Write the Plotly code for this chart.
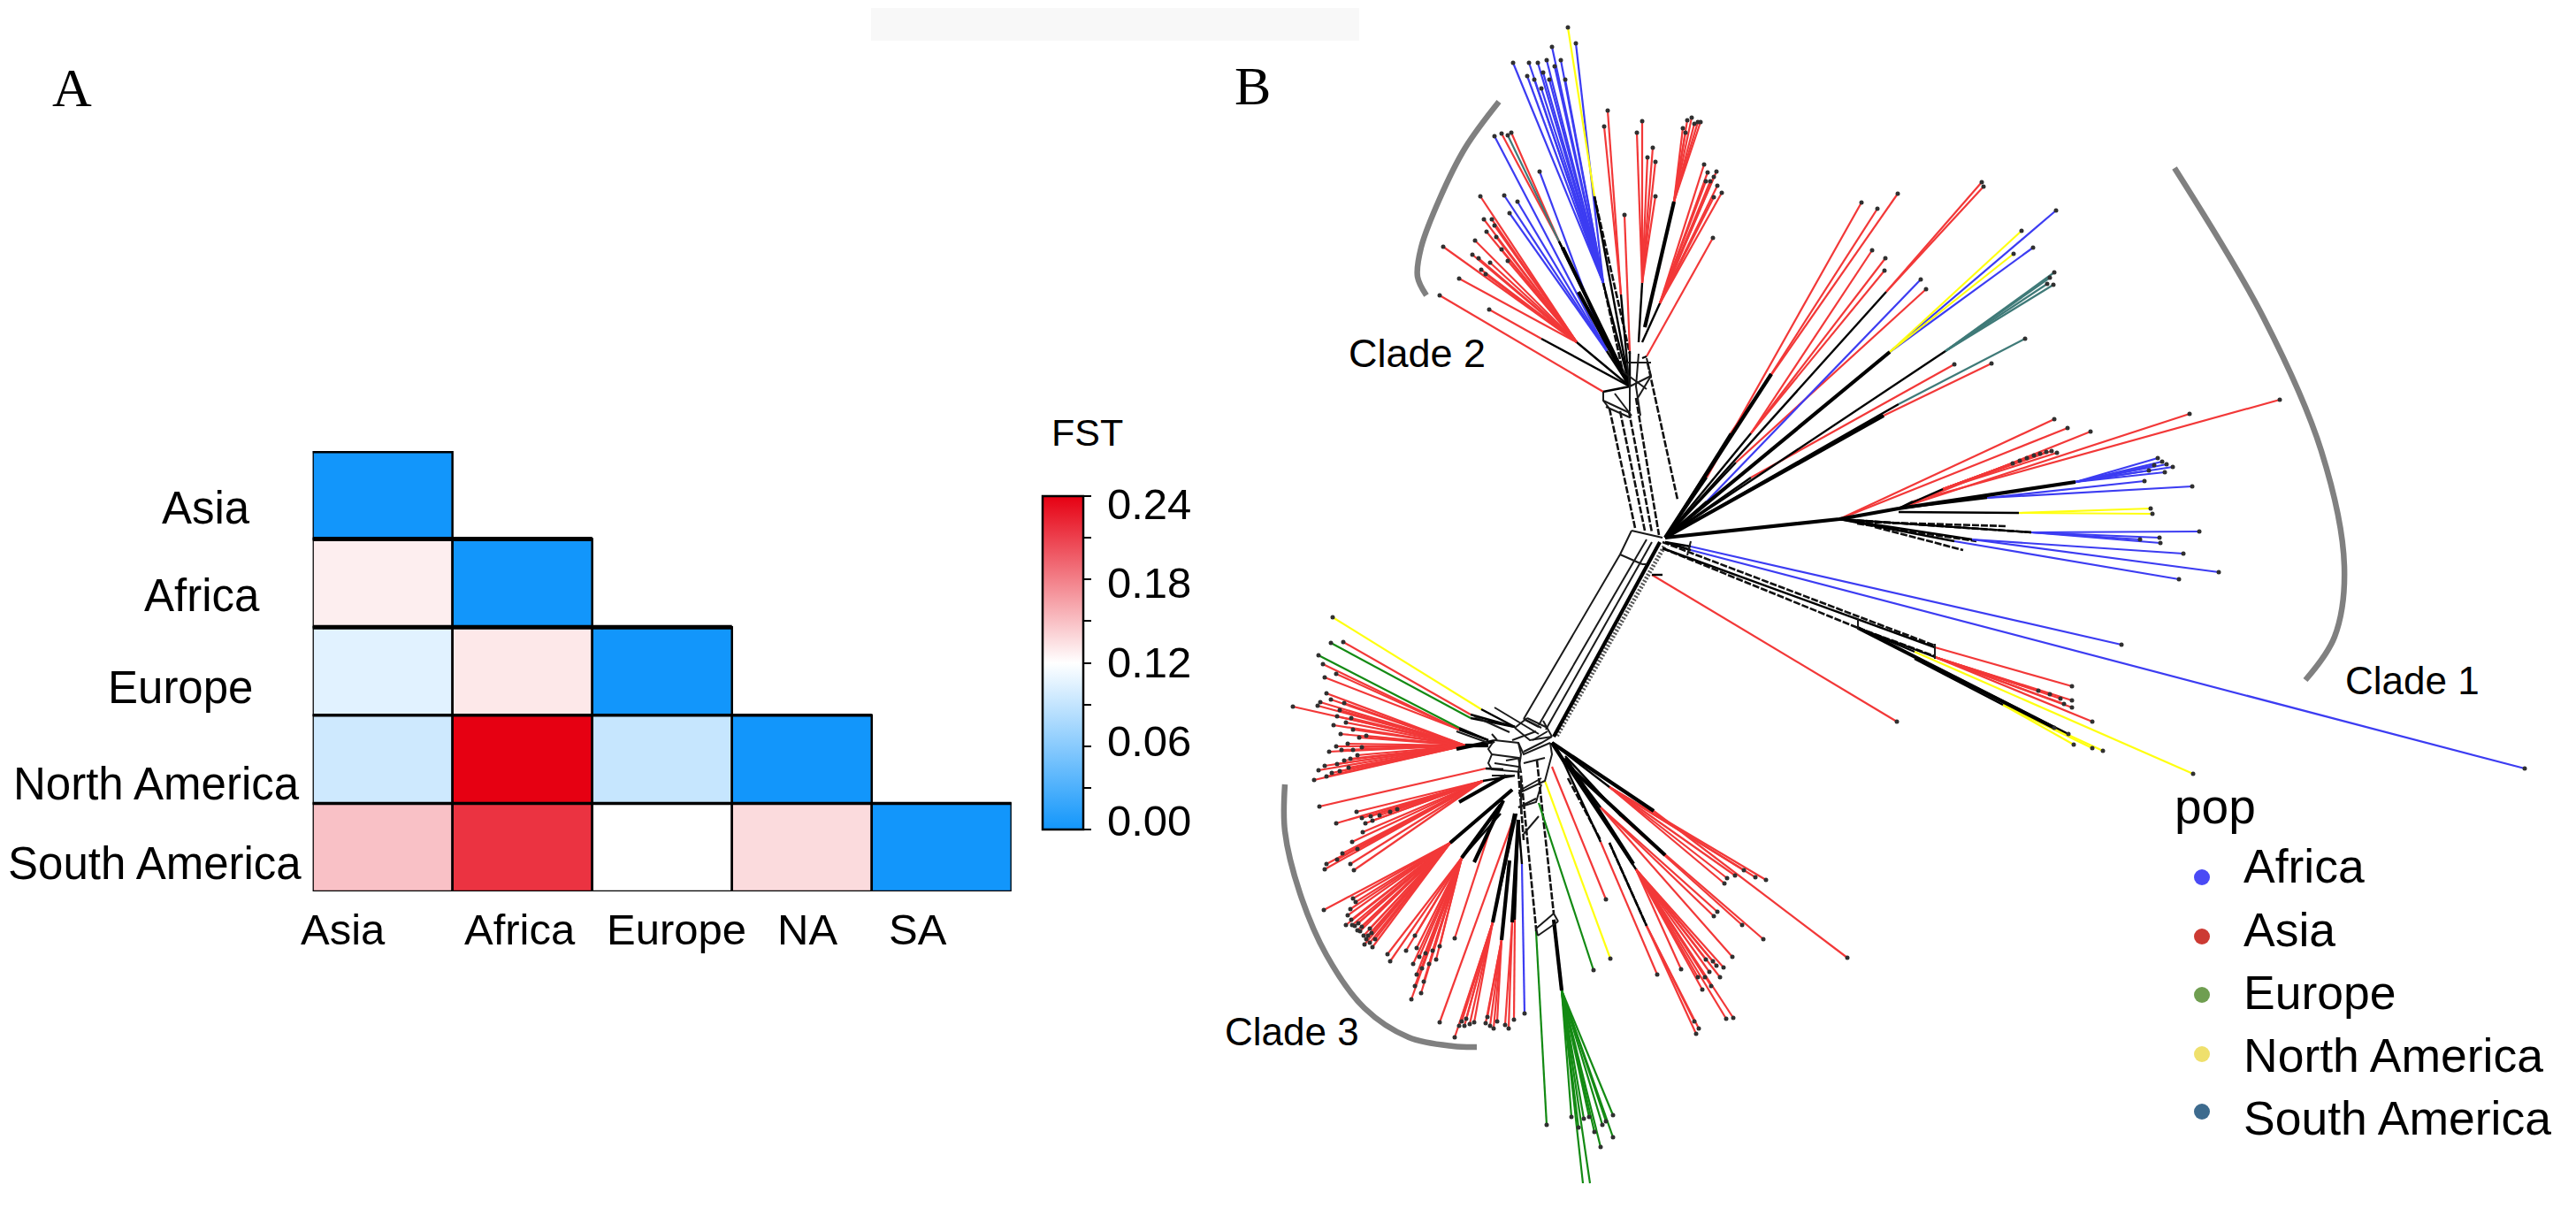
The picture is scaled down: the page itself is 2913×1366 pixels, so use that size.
import plotly.graph_objects as go

W, H = 2913, 1366

# ---------- panel A data ----------
row_labels = ["Asia", "Africa", "Europe", "North America", "South America"]
col_labels = ["Asia", "Africa", "Europe", "NA", "SA"]
fst_asia = [0.0, 0.128, 0.105, 0.095, 0.149]
fst_africa = [None, 0.0, 0.131, 0.24, 0.216]
fst_europe = [None, None, 0.0, 0.091, 0.12]
fst_na = [None, None, None, 0.0, 0.137]
fst_sa = [None, None, None, None, 0.0]
cbar_major = [0.0, 0.06, 0.12, 0.18, 0.24]
cbar_minor = [0.03, 0.09, 0.15, 0.21]

# ---------- panel B data: (node the black stem leaves, node where the colour starts, tips) ----------
asia_branches = [
    ((1843, 437), (1783, 387), [(1674, 222), (1678, 248), (1687, 248), (1668, 272), (1665, 288), (1685, 297),
                                (1705, 295), (1675, 305), (1632, 279), (1650, 315), (1681, 262), (1672, 292),
                                (1692, 268), (1698, 282), (1680, 310), (1690, 255)]),
    ((1843, 437), (1813, 443), [(1628, 334)]),
    ((1843, 437), (1743, 383), [(1684, 350)]),
    ((1843, 437), (1763, 273), [(1698, 151), (1709, 150)]),
    ((1840, 410), (1833, 333), [(1818, 125), (1814, 143)]),
    ((1843, 437), (1843, 397), [(1837, 243)]),
    ((1853, 387), (1857, 320), [(1857, 137), (1851, 150), (1869, 167), (1863, 178), (1872, 183), (1872, 222)]),
    ((1860, 370), (1893, 228), [(1908, 136), (1913, 133), (1923, 138), (1903, 145), (1920, 138), (1916, 140), (1906, 150)]),
    ((1857, 387), (1877, 343), [(1927, 186), (1931, 195), (1941, 194), (1938, 223), (1947, 218), (1938, 200), (1934, 205),
                                (1929, 205), (1942, 210)]),
    ((1857, 405), (1862, 403), [(1937, 269)]),
    # first upper fan
    ((1883, 608), (1930, 540), [(2105, 229)]),
    ((1883, 608), (2003, 423), [(2123, 236)]),
    ((1883, 608), (1957, 490), [(2146, 219)]),
    ((1883, 608), (1980, 490), [(2117, 283), (2132, 292), (2131, 306)]),
    ((1883, 608), (2133, 330), [(2241, 206), (2243, 211)]),
    ((1883, 608), (1963, 523), [(2178, 327)]),
    ((1883, 608), (1980, 540), [(2210, 412)]),
    ((1883, 608), (2130, 470), [(2252, 411)]),
    # right fan
    ((2080, 587), (2080, 587), [(2323, 474), (2338, 484)]),
    ((2147, 575), (2147, 575), [(2364, 488), (2476, 468)]),
    ((2147, 575), (2163, 567), [(2578, 452)]),
    ((2147, 575), (2197, 553), [(2320, 510), (2314, 511), (2307, 513), (2300, 515), (2292, 518), (2284, 521),
                                (2276, 524), (2326, 512)]),
    # lower right
    ((1880, 620), (2188, 732), [(2343, 776)]),
    ((2101, 710), (2188, 743), [(2343, 792), (2343, 800), (2366, 816), (2330, 790), (2318, 785), (2305, 781), (2334, 796)]),
    ((1880, 650), (1868, 650), [(2145, 816)]),
    # clade 3, upper-left wedge
    ((1713, 822), (1663, 808), [(1519, 726)]),
    ((1683, 837), (1650, 825), [(1496, 751), (1511, 762), (1498, 766)]),
    ((1683, 843), (1657, 843), [(1500, 784), (1505, 791), (1493, 794), (1490, 798), (1462, 799), (1508, 820), (1522, 817),
                                (1537, 834), (1545, 832), (1524, 841), (1511, 844), (1503, 850), (1535, 854), (1527, 858),
                                (1498, 866), (1491, 871), (1506, 874), (1486, 882), (1515, 803), (1528, 812), (1517, 848),
                                (1512, 864), (1520, 860), (1500, 878), (1520, 795), (1512, 810), (1530, 825), (1516, 830),
                                (1540, 845), (1525, 868), (1515, 872), (1530, 848)]),
    ((1700, 870), (1680, 869), [(1492, 912)]),
    ((1713, 877), (1677, 883), [(1534, 918), (1550, 923), (1511, 931), (1544, 931), (1541, 941), (1529, 952), (1500, 977),
                                (1527, 977), (1498, 983), (1531, 984), (1560, 922), (1572, 918), (1552, 928), (1540, 925),
                                (1518, 965), (1512, 972), (1535, 960), (1580, 915)]),
    # clade 3, lower wedges
    ((1710, 893), (1640, 953), [(1497, 1029), (1530, 1016), (1533, 1020), (1524, 1035), (1522, 1046), (1532, 1047),
                                (1538, 1053), (1549, 1050), (1551, 1055), (1549, 1066), (1552, 1071), (1528, 1040),
                                (1542, 1058), (1536, 1044), (1545, 1062), (1527, 1028), (1540, 1048), (1535, 1052),
                                (1547, 1058), (1529, 1046), (1555, 1062), (1543, 1068)]),
    ((1697, 920), (1653, 970), [(1569, 1079), (1572, 1087), (1600, 1058), (1602, 1072), (1605, 1082), (1602, 1102),
                                (1596, 1130), (1607, 1123), (1590, 1075), (1612, 1078), (1620, 1075), (1628, 1070),
                                (1598, 1090), (1608, 1095), (1610, 1110), (1616, 1090), (1624, 1085), (1600, 1115)]),
    ((1695, 915), (1690, 923), [(1645, 1061)]),
    ((1712, 925), (1710, 930), [(1628, 1156)]),
    ((1715, 920), (1688, 1043), [(1645, 1173), (1653, 1155), (1658, 1152), (1662, 1158), (1667, 1156), (1650, 1160), (1656, 1160)]),
    ((1707, 973), (1698, 1063), [(1680, 1157), (1685, 1160), (1689, 1163), (1682, 1150), (1693, 1155)]),
    ((1717, 927), (1710, 1043), [(1702, 1159), (1706, 1163)]),
    ((1717, 927), (1713, 1040), [(1712, 1153)]),
    # clade 3, right fan
    ((1755, 867), (1755, 867), [(1816, 1017)]),
    ((1755, 840), (1870, 917), [(2089, 1083)]),
    ((1755, 840), (1820, 890), [(1997, 995), (1972, 984), (1953, 993), (1950, 999), (1985, 992), (1962, 990)]),
    ((1770, 855), (1833, 923), [(1994, 1062), (1970, 1046)]),
    ((1770, 860), (1810, 913), [(1942, 1031), (1938, 1036), (1959, 1082)]),
    ((1770, 863), (1850, 983), [(1949, 1094), (1937, 1087), (1929, 1085), (1933, 1099), (1925, 1119), (1960, 1151),
                                (1952, 1152), (1901, 1096), (1941, 1092), (1920, 1105), (1945, 1105), (1935, 1115),
                                (1928, 1105)]),
    ((1765, 855), (1810, 952), [(1874, 1102)]),
    ((1820, 953), (1862, 1047), [(1921, 1163), (1918, 1169), (1916, 1155)]),
]
africa_branches = [
    ((1843, 437), (1813, 320), [(1782, 49), (1755, 53), (1711, 71), (1729, 71), (1739, 71), (1749, 68), (1765, 68),
                                (1727, 86), (1758, 75), (1745, 82), (1770, 90), (1735, 90), (1752, 90), (1743, 100)]),
    ((1843, 437), (1817, 397), [(1690, 154), (1741, 194), (1701, 221), (1716, 228), (1707, 241)]),
    ((1883, 608), (1930, 567), [(2172, 316)]),
    ((2137, 398), (2137, 398), [(2325, 238), (2299, 280)]),
    ((2147, 575), (2347, 545), [(2440, 518), (2445, 522), (2450, 525), (2457, 528), (2448, 534), (2436, 526), (2430, 532)]),
    ((2147, 575), (2247, 563), [(2425, 544), (2479, 550)]),
    ((2080, 587), (2297, 602), [(2487, 601), (2442, 608), (2443, 614), (2420, 610)]),
    ((2080, 587), (2230, 610), [(2469, 626), (2509, 647)]),
    ((2080, 587), (2210, 612), [(2464, 655)]),
    ((1883, 613), (1912, 618), [(2399, 729)]),
    ((1883, 613), (1912, 622), [(2855, 869)]),
    ((1717, 927), (1721, 977), [(1724, 1146)]),
]
europe_branches = [
    ((1713, 822), (1663, 812), [(1505, 727)]),
    ((1683, 837), (1650, 823), [(1491, 741)]),
    ((1740, 908), (1740, 908), [(1802, 1097)]),
    ((1737, 1050), (1737, 1053), [(1749, 1272)]),
    ((1757, 1040), (1766, 1120), [(1777, 1263), (1797, 1263), (1812, 1272), (1824, 1261), (1824, 1286), (1810, 1297),
                                  (1785, 1275), (1803, 1280), (1816, 1268), (1791, 1265)]),
]
europe_cut_branches = [
    ((1757, 1040), (1766, 1120), [(1790, 1338), (1798, 1338)]),
]
north_america_branches = [
    ((1843, 437), (1803, 222), [(1773, 31)]),
    ((2137, 398), (2137, 398), [(2286, 261), (2277, 287)]),
    ((2147, 579), (2283, 580), [(2432, 575), (2434, 581)]),
    ((2101, 710), (2165, 737), [(2480, 875)]),
    ((2165, 745), (2265, 797), [(2345, 842), (2366, 846), (2378, 849)]),
    ((1713, 822), (1675, 802), [(1507, 698)]),
    ((1747, 883), (1747, 883), [(1821, 1084)]),
]
south_america_branches = [
    ((1843, 437), (1763, 273), [(1705, 153)]),
    ((1883, 608), (2200, 397), [(2323, 308), (2322, 322), (2315, 321), (2318, 314)]),
    ((1883, 608), (2147, 457), [(2290, 383)]),
]
black_tips = [(2323, 823), (2339, 830)]
black_tip_stem = (2101, 710)

network_paths = [
    # clade 2 junction
    [(1840, 410), (1843, 437), (1843, 465)], [(1853, 400), (1850, 437), (1855, 470)], [(1862, 405), (1867, 425), (1852, 450)],
    [(1813, 453), (1843, 467)], [(1816, 460), (1843, 472)], [(1840, 410), (1867, 410)], [(1843, 437), (1867, 425)],
    [(1813, 443), (1813, 453), (1820, 462)], [(1826, 445), (1845, 470)], [(1835, 420), (1862, 440)],
    # central long bundle
    [(1845, 600), (1832, 627), (1723, 813)], [(1862, 610), (1740, 820)], [(1868, 613), (1748, 825)],
    [(1845, 600), (1880, 608)], [(1832, 627), (1857, 638)], [(1723, 813), (1740, 822)], [(1857, 638), (1862, 638)],
    # clade 3 junction
    [(1727, 812), (1713, 823)], [(1713, 823), (1730, 837), (1755, 833)], [(1690, 837), (1717, 840), (1723, 853), (1753, 840)],
    [(1687, 853), (1717, 857), (1720, 873), (1687, 870), (1683, 863), (1687, 853)], [(1690, 837), (1683, 847), (1687, 853)],
    [(1717, 840), (1720, 853), (1717, 873)], [(1717, 897), (1747, 883), (1755, 853), (1753, 840)],
    [(1717, 913), (1737, 907), (1743, 887)], [(1720, 877), (1720, 920)],
    [(1740, 830), (1690, 800)], [(1750, 823), (1727, 812)], [(1755, 833), (1745, 815)],
    [(1667, 810), (1707, 828)], [(1647, 827), (1683, 840)], [(1687, 830), (1693, 837)], [(1723, 813), (1743, 823)],
    [(1733, 837), (1750, 827)], [(1710, 837), (1737, 827)], [(1723, 850), (1743, 840), (1755, 833)],
    [(1723, 863), (1747, 857)], [(1720, 893), (1743, 880)], [(1717, 913), (1737, 903)], [(1703, 860), (1720, 857)],
    [(1690, 863), (1717, 867)], [(1687, 877), (1713, 877)],
    # bottom boxes
    [(1737, 1050), (1757, 1033)], [(1739, 1058), (1762, 1042)], [(1723, 943), (1740, 923)],
    [(1737, 1050), (1739, 1058)], [(1757, 1033), (1762, 1042)],
    # ladders
    [(2101, 700), (2101, 712)], [(2188, 728), (2188, 745)], [(1912, 612), (1908, 628)],
]
thick_paths = [
    [(1843, 437), (1767, 280)], [(1843, 437), (1785, 330)], [(1860, 370), (1893, 228)],
    [(1883, 608), (2003, 423)], [(1883, 608), (2137, 398)], [(1883, 608), (2130, 470)],
    [(1883, 608), (2080, 587), (2147, 575)], [(2147, 575), (2347, 545)],
    [(1657, 843), (1683, 843)], [(1647, 847), (1690, 838)], [(1650, 907), (1703, 877)],
    [(1640, 953), (1710, 893)], [(1653, 970), (1697, 910)], [(1667, 975), (1700, 905)],
    [(1688, 1043), (1713, 920)], [(1698, 1063), (1707, 973)], [(1710, 1043), (1717, 927)],
    [(1757, 1040), (1766, 1120)], [(1757, 833), (1877, 613)],
    [(1755, 840), (1870, 917)], [(1770, 863), (1883, 967)], [(1770, 857), (1847, 977)], [(1755, 840), (1770, 863)],
    [(2101, 710), (2323, 823)],
]
hatch_paths = [[(1882, 618), (1760, 833)]]
dashed_paths = [
    [(1820, 462), (1849, 597)], [(1832, 465), (1860, 600)], [(1842, 465), (1868, 602)], [(1850, 450), (1876, 605)],
    [(1863, 410), (1897, 565)],
    [(1720, 877), (1737, 1050)], [(1738, 860), (1757, 1033)], [(1717, 873), (1723, 950)],
    [(1880, 613), (2188, 730)], [(1880, 620), (2101, 710)], [(2101, 710), (2188, 742)],
    [(2080, 587), (2297, 602)], [(2100, 592), (2235, 612)], [(2120, 596), (2220, 622)], [(2100, 590), (2270, 595)],
    [(1773, 880), (1810, 950)], [(1820, 953), (1862, 1047)], [(1803, 222), (1843, 400)], [(1813, 320), (1835, 420)],
]

clade1_arc_x = [2459, 2560, 2625, 2651, 2640, 2607]
clade1_arc_y = [190, 360, 510, 640, 720, 769]
clade2_arc_x = [1695, 1657, 1627, 1607, 1603, 1613]
clade2_arc_y = [115, 167, 227, 280, 313, 334]
clade3_arc_x = [1453, 1453, 1470, 1500, 1543, 1593, 1643, 1670]
clade3_arc_y = [887, 940, 1010, 1080, 1140, 1173, 1183, 1184]

legend_pops = ["Africa", "Asia", "Europe", "North America", "South America"]
legend_colors = ["#4a4af5", "#cc3a33", "#6f9e50", "#efe06c", "#3d6b8e"]

# ---------- style ----------
FONT = "Liberation Sans"
branch_colors = {"asia": "#f23838", "africa": "#3c3cf2", "europe": "#138a13", "na": "#ffff10", "sa": "#3f7a78"}

# ---------- figure ----------
fig = go.Figure()

z = [[fst_asia[r], fst_africa[r], fst_europe[r], fst_na[r], fst_sa[r]] for r in range(5)]
fig.add_trace(go.Heatmap(
    z=z, x=list(range(5)), y=list(range(5)), xaxis="x", yaxis="y",
    zmin=0, zmax=0.24, hoverongaps=False,
    colorscale=[[0, "#1296fb"], [0.5, "#ffffff"], [1, "#e60012"]],
    colorbar=dict(
        x=1179 / W, xanchor="left", y=1 - 938 / H, yanchor="bottom",
        lenmode="pixels", len=377, thicknessmode="pixels", thickness=46, xpad=0, ypad=0,
        outlinecolor="black", outlinewidth=2.5, ticks="outside", ticklen=8, tickwidth=2, tickcolor="black",
        tickvals=cbar_major + cbar_minor, showticklabels=False,
    ),
))

shapes = [dict(type="rect", xref="paper", yref="paper", x0=985 / W, x1=1537 / W, y0=1 - 46 / H, y1=1 - 9 / H,
               fillcolor="#f8f8f8", line_width=0, layer="below")]
for r in range(5):
    for c in range(r + 1):
        shapes.append(dict(type="rect", xref="x", yref="y", x0=c - 0.5, x1=c + 0.5, y0=r - 0.5, y1=r + 0.5,
                           line=dict(color="black", width=2.5), fillcolor="rgba(0,0,0,0)"))
    shapes.append(dict(type="line", xref="x", yref="y", x0=-0.5, x1=r + 0.5, y0=r - 0.5, y1=r - 0.5,
                       line=dict(color="black", width=5 if r < 3 else 3.5)))
fig.update_layout(shapes=shapes)


def polyline_xy(paths):
    xs, ys = [], []
    for path in paths:
        for px, py in path:
            xs.append(px)
            ys.append(py)
        xs.append(None)
        ys.append(None)
    return xs, ys


def add_tree_line(xs, ys, color, width, dash=None):
    fig.add_trace(go.Scatter(x=xs, y=ys, mode="lines", xaxis="x2", yaxis="y2", hoverinfo="skip",
                             line=dict(color=color, width=width, dash=dash)))


groups = [("asia", asia_branches), ("africa", africa_branches), ("europe", europe_branches + europe_cut_branches),
          ("na", north_america_branches), ("sa", south_america_branches)]

black_paths = [[black_tip_stem, t] for t in black_tips]
for _, branches in groups:
    for start, stem, tips in branches:
        black_paths.append([start, stem])

add_tree_line(*polyline_xy(hatch_paths), "#555555", 5, "2px,2px")
add_tree_line(*polyline_xy(dashed_paths), "#111111", 2.6, "8px,2px")
for name, branches in groups:
    paths = [[stem, t] for _, stem, tips in branches for t in tips]
    add_tree_line(*polyline_xy(paths), branch_colors[name], 2.2)
add_tree_line(*polyline_xy(black_paths), "#000000", 2.4)
add_tree_line(*polyline_xy(thick_paths), "#000000", 4.2)
add_tree_line(*polyline_xy(network_paths), "#1a1a1a", 2)

tip_x, tip_y = [], []
for branches in (asia_branches, africa_branches, europe_branches, north_america_branches, south_america_branches):
    for _, _, tips in branches:
        for t in tips:
            tip_x.append(t[0])
            tip_y.append(t[1])
for t in black_tips:
    tip_x.append(t[0])
    tip_y.append(t[1])
fig.add_trace(go.Scatter(x=tip_x, y=tip_y, mode="markers", xaxis="x2", yaxis="y2", hoverinfo="skip",
                         marker=dict(color="#303030", size=5)))

for ax, ay in ((clade1_arc_x, clade1_arc_y), (clade2_arc_x, clade2_arc_y), (clade3_arc_x, clade3_arc_y)):
    fig.add_trace(go.Scatter(x=ax, y=ay, mode="lines", xaxis="x2", yaxis="y2", hoverinfo="skip",
                             line=dict(color="#808080", width=6.5, shape="spline", smoothing=1.0)))

legend_x = [2490] * 5
legend_y = [992, 1059, 1125, 1192, 1257]
legend_text_y = [979, 1051, 1122, 1193, 1264]
fig.add_trace(go.Scatter(x=legend_x, y=legend_y, mode="markers", xaxis="x2", yaxis="y2", hoverinfo="skip",
                         marker=dict(color=legend_colors, size=18)))

annotations = []


def label(text, x, y, size, family=FONT, xanchor="center"):
    annotations.append(dict(text=text, x=x / W, y=1 - y / H, xref="paper", yref="paper", showarrow=False,
                            xanchor=xanchor, yanchor="middle", font=dict(family=family, size=size, color="black")))


for t, x, y in zip(row_labels, [233, 228, 204, 177, 175], [574, 673, 777, 887, 976]):
    label(t, x, y, 51)
for t, x in zip(col_labels, [388, 588, 765, 913, 1038]):
    label(t, x, 1051, 49)
for v, y in zip(cbar_major, [928, 838, 749, 659, 570]):
    label(f"{v:.2f}", 1250, y, 49, xanchor="left")
label("FST", 1229, 489, 43)
label("A", 81, 99, 62, family="Liberation Serif")
label("B", 1416, 97, 62, family="Liberation Serif")
label("Clade 1", 2728, 769, 44)
label("Clade 2", 1602, 399, 45)
label("Clade 3", 1461, 1166, 44)
label("pop", 2457, 912, 55, xanchor="left")
for t, y in zip(legend_pops, legend_text_y):
    label(t, 2535, y, 53.5, xanchor="left")

TREE_LEFT = 1370
fig.update_layout(
    width=W, height=H, autosize=False, margin=dict(l=0, r=0, t=0, b=0, pad=0),
    paper_bgcolor="white", plot_bgcolor="rgba(0,0,0,0)", showlegend=False,
    annotations=annotations,
    xaxis=dict(domain=[353.6 / W, 1143.8 / W], range=[-0.5, 4.5], visible=False, fixedrange=True),
    yaxis=dict(domain=[1 - 1008 / H, 1 - 510 / H], range=[4.5, -0.5], visible=False, fixedrange=True),
    xaxis2=dict(domain=[TREE_LEFT / W, 1], range=[TREE_LEFT, W], visible=False, fixedrange=True),
    yaxis2=dict(domain=[0, 1], range=[H, 0], visible=False, fixedrange=True),
)

fig.write_html("out.html", config={"displayModeBar": False}, post_script="document.body.style.margin='0';")
